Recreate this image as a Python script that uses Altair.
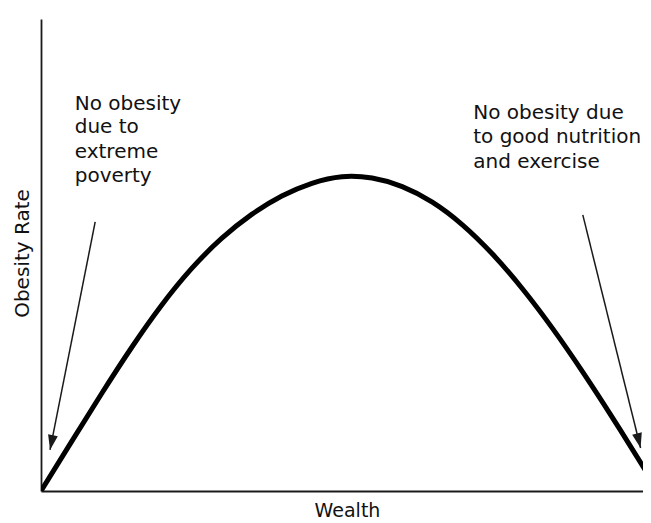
import math
import altair as alt
import pandas as pd

# ---- data (wealth 0-100, obesity 0-100) ----
wealth = [0, 5, 10, 15, 20, 25, 30, 35, 40, 45, 50,
          55, 60, 65, 70, 75, 80, 85, 90, 95, 100, 101.3]
obesity = [0, 10.3, 20.5, 30.3, 39.3, 47.1, 53.5, 58.6, 62.5, 65.2, 66.6,
           66.3, 64.5, 61.2, 56.4, 50.2, 42.8, 34.4, 25.2, 15.4, 5.2, 2.5]

arrow_x_start = [9.0, 90.0]
arrow_y_start = [57.0, 58.5]
arrow_x_end = [1.5, 99.6]
arrow_y_end = [8.7, 9.1]

left_lines = ["No obesity", "due to", "extreme", "poverty"]
left_x = 5.6
left_y = [80.7, 75.8, 70.6, 65.5]

right_lines = ["No obesity due", "to good nutrition", "and exercise"]
right_x = 71.8
right_y = [78.8, 73.7, 68.4]

W, H = 602, 472
FONT = "DejaVu Sans"
INK = "#111111"

curve_df = pd.DataFrame({"x": wealth, "y": obesity})

sx, sy = W / 100.0, H / 100.0
angles = []
for xs, ys, xe, ye in zip(arrow_x_start, arrow_y_start, arrow_x_end, arrow_y_end):
    dx = (xe - xs) * sx
    dy = -(ye - ys) * sy
    angles.append((math.degrees(math.atan2(dy, dx)) - 90) % 360)

arrow_df = pd.DataFrame({"x": arrow_x_start, "y": arrow_y_start,
                         "x2": arrow_x_end, "y2": arrow_y_end})
head_df = pd.DataFrame({"x": arrow_x_end, "y": arrow_y_end, "angle": angles})

text_df = pd.DataFrame({
    "x": [left_x] * len(left_lines) + [right_x] * len(right_lines),
    "y": left_y + right_y,
    "t": left_lines + right_lines,
})

xenc = alt.X("x:Q", scale=alt.Scale(domain=[0, 100], nice=False, zero=False),
             axis=alt.Axis(title="Wealth", ticks=False, labels=False, grid=False,
                           domainColor="#1a1a1a", domainWidth=1.8,
                           titleFont=FONT, titleFontSize=19, titleFontWeight="normal",
                           titleColor=INK, titleX=306, titleY=25,
                           titleBaseline="alphabetic", titleAlign="center"))
yenc = alt.Y("y:Q", scale=alt.Scale(domain=[0, 100], nice=False, zero=False),
             axis=alt.Axis(title="Obesity Rate", ticks=False, labels=False, grid=False,
                           domainColor="#1a1a1a", domainWidth=1.8,
                           titleFont=FONT, titleFontSize=20, titleFontWeight="normal",
                           titleColor=INK, titleX=-13, titleY=234, titleAngle=270,
                           titleBaseline="alphabetic", titleAlign="center"))

curve = alt.Chart(curve_df).mark_line(
    color="#000000", strokeWidth=5, interpolate="natural", clip=True, strokeCap="round"
).encode(x=xenc, y=yenc)

arrows = alt.Chart(arrow_df).mark_rule(color="#1a1a1a", strokeWidth=1.5).encode(
    x=xenc, y=yenc, x2="x2:Q", y2="y2:Q")

heads = alt.Chart(head_df).mark_point(
    shape="M0,0L-0.33,-1L0.33,-1Z", filled=True, size=900, color="#1a1a1a",
    opacity=1, strokeWidth=0
).encode(x=xenc, y=yenc, angle=alt.Angle("angle:Q", scale=None))

texts = alt.Chart(text_df).mark_text(
    align="left", baseline="alphabetic", font=FONT, fontSize=20, color=INK
).encode(x=xenc, y=yenc, text="t:N")

chart = alt.layer(curve, arrows, heads, texts).properties(
    width=W, height=H,
    autosize=alt.AutoSizeParams(type="none"),
    padding={"left": 33, "top": 11, "right": 0, "bottom": 30},
).configure_view(strokeWidth=0)

chart.save("out.html", embed_options={"renderer": "svg", "actions": False})
